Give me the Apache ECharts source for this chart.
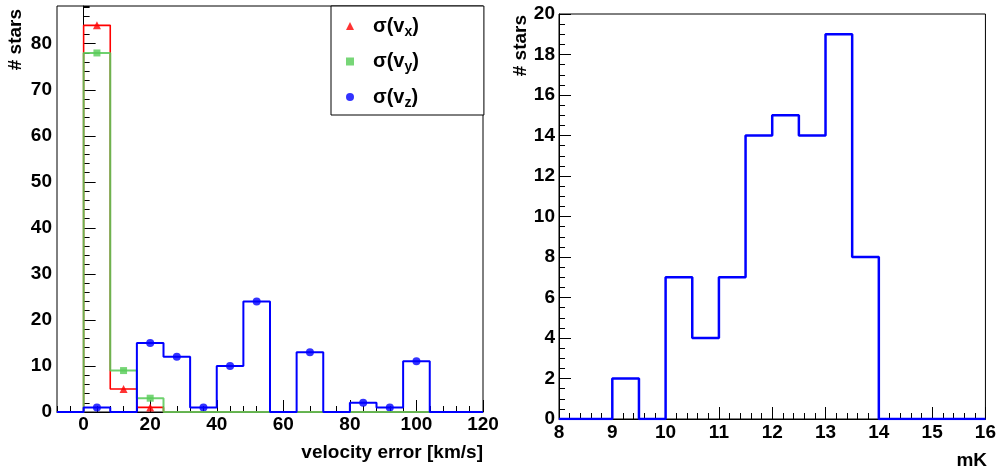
<!DOCTYPE html>
<html>
<head>
<meta charset="utf-8">
<script src="https://cdn.jsdelivr.net/npm/echarts@6/dist/echarts.min.js"></script>
<style>html,body{margin:0;padding:0;background:#fff;}#c{width:999px;height:472px;}</style>
</head>
<body>
<div id="c"></div>
<script>
// ---- data ----
const velocityEdges = [-8, 0, 8, 16, 24, 32, 40, 48, 56, 64, 72, 80, 88, 96, 104, 112, 120];
const sigmaVx = [0, 84, 5, 1, 0, 0, 0, 0, 0, 0, 0, 0, 0, 0, 0, 0];
const sigmaVy = [0, 78, 9, 3, 0, 0, 0, 0, 0, 0, 0, 0, 0, 0, 0, 0];
const sigmaVz = [0, 1, 0, 15, 12, 1, 10, 24, 0, 13, 0, 2, 1, 11, 0, 0];
const velocityTicks = [0, 20, 40, 60, 80, 100, 120];
const starsTicksLeft = [0, 10, 20, 30, 40, 50, 60, 70, 80];

const mKEdges = [8, 8.5, 9, 9.5, 10, 10.5, 11, 11.5, 12, 12.5, 13, 13.5, 14, 14.5, 15, 15.5, 16];
const mKCounts = [0, 0, 2, 0, 7, 4, 7, 14, 15, 14, 19, 8, 0, 0, 0, 0];

// ---- helpers ----
function stepData(edges, counts) {
  const d = counts.map((c, i) => [edges[i], c]);
  d.push([edges[edges.length - 1], counts[counts.length - 1]]);
  return d;
}
function markerData(edges, counts) {
  return counts.map((c, i) => [(edges[i] + edges[i + 1]) / 2, c]).filter(p => p[1] > 0);
}

const FONT = 'Liberation Sans';
const labelStyle = { color: '#000', fontSize: 19, fontWeight: 'bold', fontFamily: FONT };
const black = { color: '#000', width: 1 };

const chart = echarts.init(document.getElementById('c'), null, { renderer: 'canvas' });

const option = {
  animation: false,
  backgroundColor: '#fff',
  grid: [
    { left: 57, top: 6, width: 426, height: 406, show: true, borderColor: '#000', borderWidth: 1, backgroundColor: 'transparent' },
    { left: 559, top: 14, width: 428, height: 405, show: true, borderColor: '#000', borderWidth: 1, backgroundColor: 'transparent' }
  ],
  xAxis: [
    { type: 'value', gridIndex: 0, min: -8, max: 120, interval: 4, position: 'bottom',
      axisLine: { show: true, lineStyle: black }, axisTick: { show: true, inside: true, length: 6, lineStyle: black },
      axisLabel: { show: false }, splitLine: { show: false } },
    { type: 'value', gridIndex: 0, min: -8, max: 120, position: 'bottom',
      axisLine: { show: false }, axisTick: { show: true, inside: true, length: 12, lineStyle: black, customValues: velocityTicks },
      axisLabel: Object.assign({ show: true, margin: 3, customValues: velocityTicks }, labelStyle), splitLine: { show: false } },
    { type: 'value', gridIndex: 1, min: 8, max: 16, interval: 1, position: 'bottom',
      axisLine: { show: true, lineStyle: black }, axisTick: { show: true, inside: true, length: 12, lineStyle: black },
      minorTick: { show: true, splitNumber: 5, length: 6, lineStyle: black },
      axisLabel: Object.assign({ show: true, margin: 4 }, labelStyle), splitLine: { show: false } }
  ],
  yAxis: [
    { type: 'value', gridIndex: 0, min: 0, max: 88.2, interval: 2, position: 'left',
      axisLine: { show: true, lineStyle: black }, axisTick: { show: true, inside: true, length: 6, lineStyle: black },
      axisLabel: { show: false }, splitLine: { show: false } },
    { type: 'value', gridIndex: 0, min: 0, max: 88.2, position: 'left',
      axisLine: { show: false }, axisTick: { show: true, inside: true, length: 12, lineStyle: black, customValues: starsTicksLeft },
      axisLabel: Object.assign({ show: true, margin: 5, customValues: starsTicksLeft }, labelStyle), splitLine: { show: false } },
    { type: 'value', gridIndex: 1, min: 0, max: 20, interval: 2, position: 'left',
      axisLine: { show: true, lineStyle: black }, axisTick: { show: true, inside: true, length: 12, lineStyle: black },
      minorTick: { show: true, splitNumber: 4, length: 6, lineStyle: black },
      axisLabel: Object.assign({ show: true, margin: 4 }, labelStyle), splitLine: { show: false } }
  ],
  legend: {
    left: 331, top: 6, orient: 'vertical',
    padding: [10, 65, 5, 15], itemGap: 12.5,
    itemWidth: 8, itemHeight: 8,
    borderColor: '#000', borderWidth: 1, backgroundColor: '#fff',
    data: ['σ(vx)', 'σ(vy)', 'σ(vz)'],
    formatter: function (name) {
      const sub = name.charAt(3);
      return '{m|σ(v}{s|' + sub + '}{m|)}';
    },
    textStyle: {
      padding: [0, 0, 0, 14],
      rich: {
        m: { fontSize: 20, fontWeight: 'bold', fontFamily: FONT, color: '#000', lineHeight: 26 },
        s: { fontSize: 14, fontWeight: 'bold', fontFamily: FONT, color: '#000', lineHeight: 11, verticalAlign: 'bottom' }
      }
    }
  },
  graphic: [
    { type: 'text', x: 16, y: 9, rotation: Math.PI / 2,
      style: { text: '# stars', fill: '#000', font: 'bold 19px "Liberation Sans"', align: 'right', verticalAlign: 'middle' } },
    { type: 'text', x: 483, y: 453,
      style: { text: 'velocity error [km/s]', fill: '#000', font: 'bold 19px "Liberation Sans"', align: 'right', verticalAlign: 'middle' } },
    { type: 'text', x: 521, y: 15, rotation: Math.PI / 2,
      style: { text: '# stars', fill: '#000', font: 'bold 19px "Liberation Sans"', align: 'right', verticalAlign: 'middle' } },
    { type: 'text', x: 987, y: 461,
      style: { text: 'mK', fill: '#000', font: 'bold 19px "Liberation Sans"', align: 'right', verticalAlign: 'middle' } }
  ],
  series: [
    { name: 'hx', type: 'line', xAxisIndex: 0, yAxisIndex: 0, step: 'end', symbol: 'none',
      data: stepData(velocityEdges, sigmaVx), lineStyle: { color: '#ff0000', width: 1.6 } },
    { name: 'hy', type: 'line', xAxisIndex: 0, yAxisIndex: 0, step: 'end', symbol: 'none',
      data: stepData(velocityEdges, sigmaVy), lineStyle: { color: '#5acb5a', width: 2, opacity: 0.88 } },
    { name: 'hz', type: 'line', xAxisIndex: 0, yAxisIndex: 0, step: 'end', symbol: 'none',
      data: stepData(velocityEdges, sigmaVz), lineStyle: { color: '#0000ff', width: 2 } },
    { name: 'σ(vx)', type: 'scatter', xAxisIndex: 0, yAxisIndex: 0, symbol: 'triangle', symbolSize: 8,
      data: markerData(velocityEdges, sigmaVx), itemStyle: { color: '#ff0000' } },
    { name: 'σ(vy)', type: 'scatter', xAxisIndex: 0, yAxisIndex: 0, symbol: 'rect', symbolSize: 7,
      data: markerData(velocityEdges, sigmaVy), itemStyle: { color: '#55cc55' } },
    { name: 'σ(vz)', type: 'scatter', xAxisIndex: 0, yAxisIndex: 0, symbol: 'circle', symbolSize: 8,
      data: markerData(velocityEdges, sigmaVz), itemStyle: { color: '#0000ff' } },
    { name: 'mK', type: 'line', xAxisIndex: 2, yAxisIndex: 2, step: 'end', symbol: 'none',
      data: stepData(mKEdges, mKCounts), lineStyle: { color: '#0000ff', width: 2.5 } }
  ]
};
chart.setOption(option);
</script>
</body>
</html>
